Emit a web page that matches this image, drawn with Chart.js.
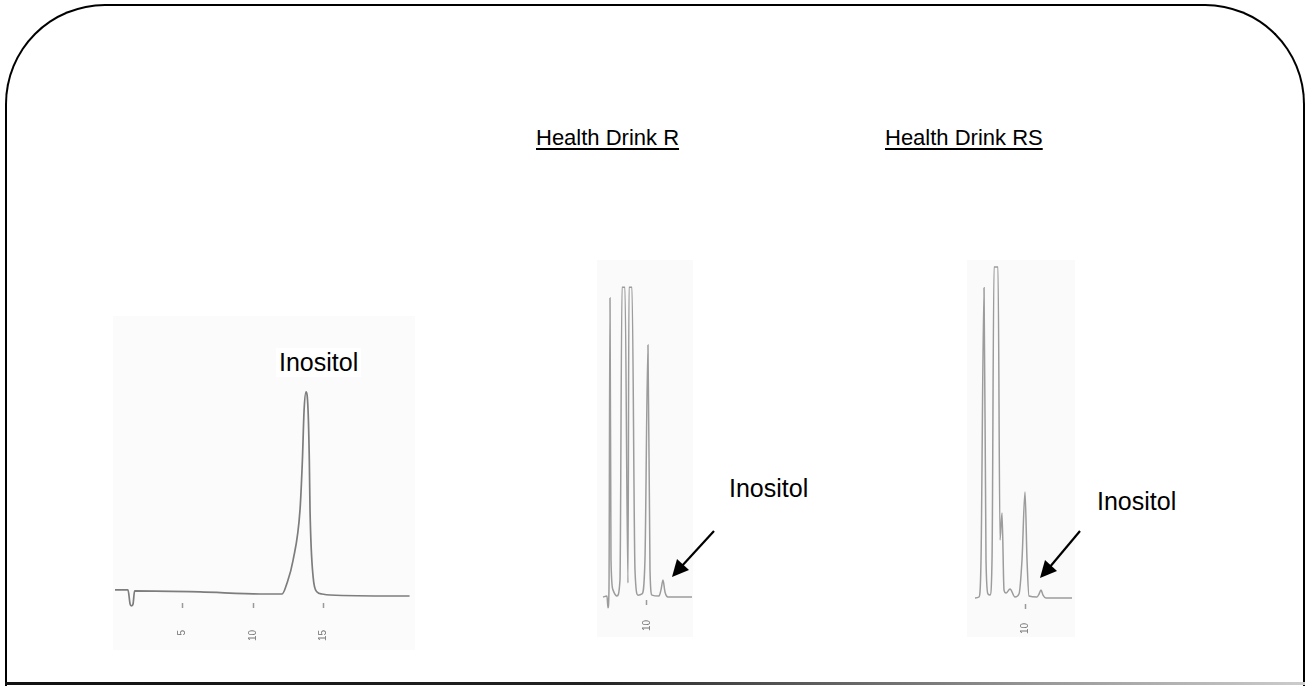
<!DOCTYPE html>
<html>
<head>
<meta charset="utf-8">
<script src="https://cdn.jsdelivr.net/npm/chart.js@4.4.1/dist/chart.umd.min.js"></script>
<style>
    body {
        margin: 0;
        width: 1310px;
        height: 686px;
        overflow: hidden;
        position: relative;
        background: #fff;
        font-family: "Liberation Sans", Arial, sans-serif;
    }
    .frame {
        position: absolute;
        left: 5px;
        top: 4px;
        width: 1296px;
        height: 680px;
        border: 2px solid #000;
        border-bottom: none;
        border-radius: 100px 100px 0 0;
    }
    .frame-bottom {
        position: absolute;
        left: 5px;
        top: 682px;
        width: 1300px;
        height: 3px;
        background: linear-gradient(to right, #111 0%, #222 45%, #999 80%, #ccc 100%);
    }
    .panel {
        position: absolute;
    }
    .panel canvas {
        filter: blur(0.4px);
    }
    .txt {
        position: absolute;
        color: #000;
        white-space: nowrap;
        line-height: 1.15;
    }
    .title {
        font-size: 22px;
        text-decoration: underline;
        text-underline-offset: 3px;
    }
    .peak {
        font-size: 25px;
    }
    svg {
        position: absolute;
        left: 0;
        top: 0;
    }
</style>
</head>
<body>
<div class="frame"></div>
<div class="frame-bottom"></div>

<div class="panel" style="left:113px;top:316px;width:302px;height:334px;background:#fbfbfb">
    <canvas id="grafico_padrao" width="302" height="334"></canvas>
</div>
<div class="panel" style="left:597px;top:260px;width:96px;height:377px;background:#fafafa">
    <canvas id="grafico_r" width="96" height="377"></canvas>
</div>
<div class="panel" style="left:967px;top:260px;width:108px;height:377px;background:#fafafa">
    <canvas id="grafico_rs" width="108" height="377"></canvas>
</div>

<div class="txt title" style="left:536px;top:125px">Health Drink R</div>
<div class="txt title" style="left:885px;top:125px">Health Drink RS</div>

<div class="txt peak" style="left:276px;top:348px;background:#fff;padding:0 3px">Inositol</div>
<div class="txt peak" style="left:729px;top:474px">Inositol</div>
<div class="txt peak" style="left:1097px;top:487px">Inositol</div>

<svg width="1310" height="686">
    <line x1="714" y1="531" x2="681" y2="567" stroke="#000" stroke-width="2.2"/>
    <polygon points="672,577 677,559 689,570" fill="#000"/>
    <line x1="1080" y1="531" x2="1049" y2="568" stroke="#000" stroke-width="2.2"/>
    <polygon points="1040,578 1045,560 1057,571" fill="#000"/>
</svg>

<script>
// inositol standard (retention time in min, detector response)
const padrao_tempo = [0.21, 1.13, 1.28, 1.38, 1.49, 1.6, 6.24, 10.5, 12.06, 12.41, 12.84, 13.33, 13.5, 13.62, 13.76, 13.9, 13.99, 14.04, 14.26, 14.54, 14.89, 15.46, 20.07, 21.1];
const padrao_sinal = [2.5, 2.5, -4.4, -5.4, -4.4, 2.0, 1.5, 0.5, 0.5, 5.9, 17.2, 41.9, 66.5, 91.1, 100, 91.1, 66.5, 41.9, 8.9, 1.5, 0.5, 0, -0.5, -0.5];
const padrao_ticks = [5, 10, 15];

// Health Drink R
const r_tempo = [-0.23, 0.7, 0.93, 1.16, 1.4, 1.63, 2.09, 3.02, 3.72, 4.19, 4.88, 5.58, 5.81, 6.51, 7.21, 7.91, 8.84, 9.53, 10.23, 10.7, 11.16, 12.79, 13.26, 13.72, 14.19, 14.88, 20.47];
const r_sinal = [0, 0.3, -3.5, 2.3, 96.5, 12, 2.3, 0.3, 5.5, 100, 100, 4.5, 100, 100, 8.7, 0.6, 1, 12, 81.3, 8.7, 0.6, 0.3, 2.3, 5.5, 1.6, 0, 0];
const r_ticks = [10];

// Health Drink RS
const rs_tempo = [-1.63, -0.7, -0.23, 0.47, 0.93, 1.4, 1.86, 2.33, 2.79, 3.72, 4.19, 4.65, 5.12, 5.58, 6.51, 7.67, 8.6, 9.3, 10.0, 10.47, 10.93, 12.79, 13.26, 13.72, 14.19, 14.88, 20.93];
const rs_sinal = [0, 0.3, 11.5, 93.7, 11.5, 1.2, 0.9, 11.5, 100, 100, 17.5, 25.7, 2.4, 1.5, 2.7, 0.3, 1.2, 11.5, 32, 11.5, 0.6, 0.3, 1.2, 2.4, 0.9, 0, 0];
const rs_ticks = [10];

function cromatograma(id, tempo, sinal, ticks, cfg) {
    new Chart(id, {
        type: "line",
        data: {
            datasets: [
                {
                    data: tempo.map((t, i) => ({ x: t, y: sinal[i] })),
                    borderColor: cfg.cor,
                    borderWidth: cfg.espessura,
                    pointRadius: 0,
                    cubicInterpolationMode: "monotone",
                    clip: false,
                },
            ],
        },
        options: {
            responsive: false,
            animation: false,
            events: [],
            layout: {
                padding: { left: cfg.pad[0], right: cfg.pad[1], top: cfg.pad[2], bottom: 0 },
            },
            plugins: {
                legend: { display: false },
                tooltip: { enabled: false },
            },
            scales: {
                x: {
                    type: "linear",
                    min: cfg.x[0],
                    max: cfg.x[1],
                    afterBuildTicks: (scale) => {
                        scale.ticks = ticks.map((v) => ({ value: v }));
                    },
                    afterFit: (scale) => {
                        scale.height = cfg.eixo;
                    },
                    border: { display: false },
                    grid: {
                        drawOnChartArea: false,
                        tickLength: 5,
                        tickWidth: 1.5,
                        color: "#9a9a9a",
                    },
                    ticks: {
                        minRotation: 90,
                        maxRotation: 90,
                        padding: cfg.folga,
                        color: "#7a7a7a",
                        font: { family: "Liberation Sans", size: 10 },
                    },
                },
                y: {
                    display: false,
                    min: cfg.y[0],
                    max: cfg.y[1],
                },
            },
        },
    });
}

cromatograma("grafico_padrao", padrao_tempo, padrao_sinal, padrao_ticks, {
    cor: "#7d7d7d", espessura: 1.7,
    pad: [2, 5, 14], x: [0.21, 21.13], y: [-3.94, 130.5], eixo: 47, folga: 22,
});
cromatograma("grafico_r", r_tempo, r_sinal, r_ticks, {
    cor: "#9c9c9c", espessura: 1.5,
    pad: [6, 1, 20], x: [-0.23, 20.47], y: [-0.97, 102.3], eixo: 37, folga: 15,
});
cromatograma("grafico_rs", rs_tempo, rs_sinal, rs_ticks, {
    cor: "#9c9c9c", espessura: 1.5,
    pad: [8, 3, 2], x: [-1.63, 20.93], y: [-1.81, 101.5], eixo: 33, folga: 14,
});
</script>
</body>
</html>
